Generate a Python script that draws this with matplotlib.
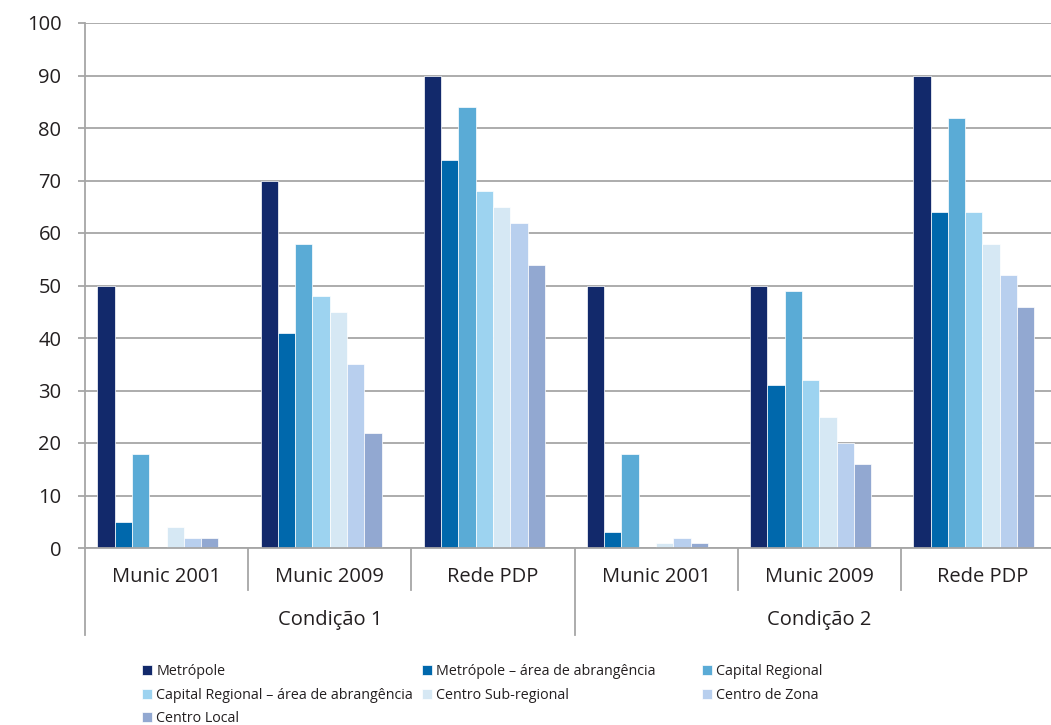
import numpy as np
import matplotlib.pyplot as plt
import matplotlib.transforms as mtransforms

plt.rcParams["font.family"] = ["Open Sans", "DejaVu Sans"]

categories = ["Munic 2001", "Munic 2009", "Rede PDP", "Munic 2001", "Munic 2009", "Rede PDP"]
conditions = ["Condição 1", "Condição 2"]
series_names = [
    "Metrópole",
    "Metrópole – área de abrangência",
    "Capital Regional",
    "Capital Regional – área de abrangência",
    "Centro Sub-regional",
    "Centro de Zona",
    "Centro Local",
]
values = np.array(
    [
        [50, 70, 90, 50, 50, 90],
        [5, 41, 74, 3, 31, 64],
        [18, 58, 84, 18, 49, 82],
        [0, 48, 68, 0, 32, 64],
        [4, 45, 65, 1, 25, 58],
        [2, 35, 62, 2, 20, 52],
        [2, 22, 54, 1, 16, 46],
    ]
)
colors = ["#12296b", "#0068ac", "#5aabd6", "#9dd3f0", "#d6e8f4", "#b8cfee", "#92a8d1"]

fig = plt.figure(figsize=(10.51, 7.25), dpi=100)
ax = fig.add_axes([85 / 1051, 1 - 548 / 725, (1064 - 85) / 1051, (548 - 23) / 725])

x = np.arange(len(categories))
w = 0.106
handles = []
for k, (name, vals, col) in enumerate(zip(series_names, values, colors)):
    b = ax.bar(x + (k - 3.5) * w, vals, w, color=col, edgecolor="white", linewidth=0.5,
               label=name, zorder=3)
    handles.append(b)

grid_col = "#a6a6a6"
ax.set_xlim(-0.5, 5.5)
ax.set_ylim(0, 100)
ax.set_yticks(np.arange(0, 101, 10))
ax.yaxis.grid(True, color=grid_col, linewidth=1.3, zorder=0)
ax.tick_params(axis="y", length=5, color=grid_col, width=1.3, labelsize=14.5, labelcolor="#231f20", pad=12)
ax.set_xticks([])
for s in ["top", "right"]:
    ax.spines[s].set_visible(False)
for s in ["left", "bottom"]:
    ax.spines[s].set_color(grid_col)
    ax.spines[s].set_linewidth(1.3)
    ax.spines[s].set_zorder(4)

# group separators and labels below the axis
trans = mtransforms.blended_transform_factory(ax.transData, ax.transAxes)
ax_h = 548 - 23
for b in [0.5, 1.5, 3.5, 4.5]:
    ax.plot([b, b], [0, -42 / ax_h], transform=trans, color=grid_col, lw=1.3, clip_on=False)
for b in [-0.5, 2.5, 5.5]:
    ax.plot([b, b], [0, -87 / ax_h], transform=trans, color=grid_col, lw=1.3, clip_on=False)
for i, c in enumerate(categories):
    ax.text(i, -29 / ax_h, c, transform=trans, ha="center", va="center", fontsize=14.5, color="#231f20")
for j, c in enumerate(conditions):
    ax.text(1 + 3 * j, -72 / ax_h, c, transform=trans, ha="center", va="center", fontsize=14.5, color="#231f20")

# legend: three columns, filled row by row
legend_cols = [[0, 3, 6], [1, 4], [2, 5]]
col_x = [142, 422, 702]
for idxs, cx in zip(legend_cols, col_x):
    leg = fig.legend([handles[i] for i in idxs], [series_names[i] for i in idxs],
                     loc="upper left", bbox_to_anchor=(cx / 1051, 1 - 664 / 725),
                     frameon=False, handlelength=0.7, handleheight=0.7,
                     handletextpad=0.3, labelspacing=0.6,
                     borderaxespad=0, borderpad=0, fontsize=10.3)
    for t in leg.get_texts():
        t.set_color("#231f20")

fig.savefig("out.png", dpi=100)
